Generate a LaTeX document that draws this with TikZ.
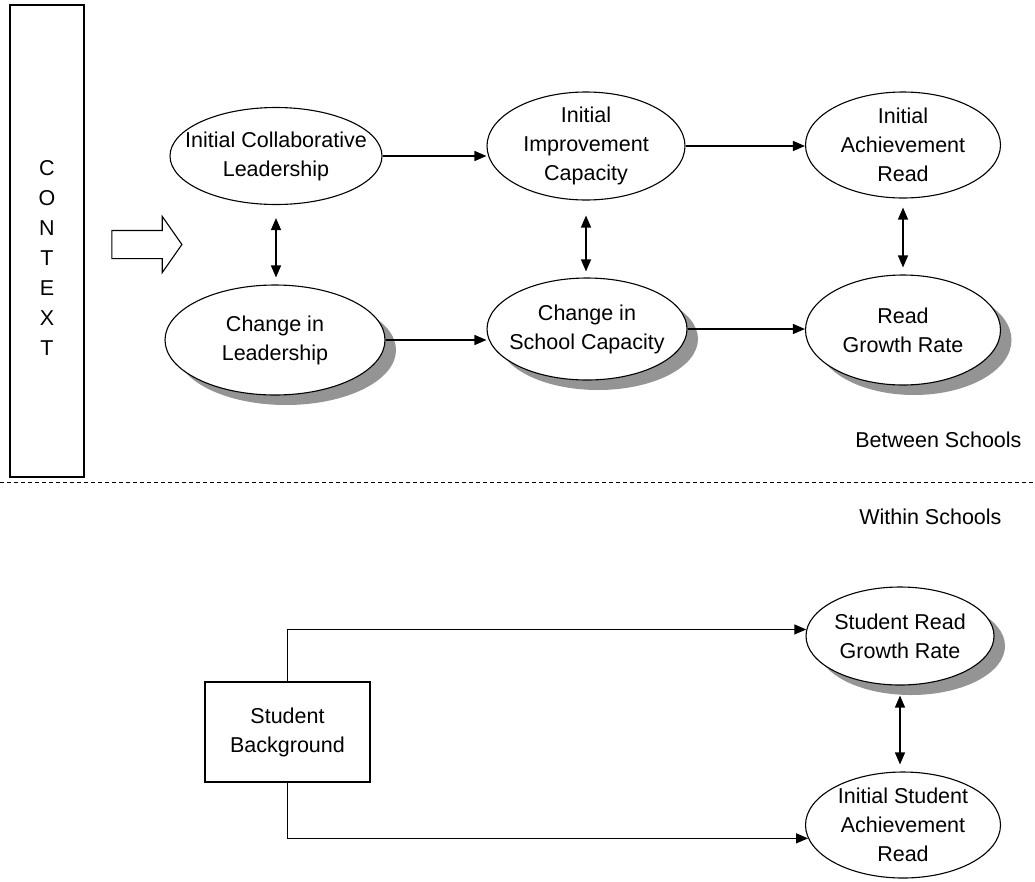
\documentclass[tikz,border=0pt]{standalone}
\usepackage{fontspec}
\setmainfont{Liberation Sans}
\usetikzlibrary{positioning}
\usetikzlibrary{arrows.meta}
\usetikzlibrary{shapes.geometric}
\usetikzlibrary{shapes.arrows}
\usetikzlibrary{shadows}

\tikzset{
    var/.style={ellipse, draw=black, line width=1.1pt, fill=white, inner sep=-60pt, align=center},
    varshadow/.style={var, drop shadow={shadow xshift=11pt, shadow yshift=-10pt, fill=black!42, opacity=1}},
    link/.style={-{Triangle[length=12pt,width=10pt]}, line width=1.3pt},
    both/.style={{Triangle[length=12pt,width=10pt]}-{Triangle[length=12pt,width=10pt]}, line width=1.3pt},
}

\begin{document}
\begin{tikzpicture}[x=1pt, y=-1pt, font=\fontsize{21.5}{29}\selectfont]
    \useasboundingbox (0,0) rectangle (1035,881);
    % context
    \node (context) [rectangle, minimum width=74pt, minimum height=472pt, draw=black, line width=1.1pt] at (47,241) {};
    \node (contextletters) [align=center, font=\fontsize{21.5}{30}\selectfont] at (47,258) {C\\O\\N\\T\\E\\X\\T};
    \node (contextarrow) [single arrow, draw=black, line width=1.1pt, minimum height=70pt, inner xsep=0pt, inner ysep=13.5pt, single arrow head extend=14pt, single arrow tip angle=110] at (142,244.5) {};
    % between schools
    \node (icl) [var, minimum width=212pt, minimum height=97pt] at (276,156) {Initial Collaborative\\Leadership};
    \node (iic) [var, minimum width=198pt, minimum height=108pt] at (586,146) {Initial\\Improvement\\Capacity};
    \node (iar) [var, minimum width=195pt, minimum height=106pt] at (903,145) {Initial\\Achievement\\Read};
    \node (cl) [varshadow, minimum width=220pt, minimum height=110pt] at (275,340) {Change in\\Leadership};
    \node (csc) [varshadow, minimum width=200pt, minimum height=102pt] at (587,329) {Change in\\School Capacity};
    \node (rgr) [varshadow, minimum width=195pt, minimum height=110pt] at (903,330) {Read\\Growth Rate};
    \draw [link] (icl.east) -- (icl.east -| iic.west);
    \draw [link] (iic.east) -- (iic.east -| iar.west);
    \draw [link] (cl.east) -- (cl.east -| csc.west);
    \draw [link] (csc.east) -- (csc.east -| rgr.west);
    \draw [both, shorten <=13pt, shorten >=7pt] (icl.south) -- (icl.south |- cl.north);
    \draw [both, shorten <=15pt, shorten >=6pt] (iic.south) -- (iic.south |- csc.north);
    \draw [both, shorten <=9pt, shorten >=7pt] (iar.south) -- (iar.south |- rgr.north);
    \node (between) [anchor=east] at (1025,440) {Between Schools};
    \draw [dash pattern=on 4pt off 3pt, line width=1pt] (0,482) -- (1035,482);
    % within schools
    \node (within) [anchor=east] at (1005,517) {Within Schools};
    \node (srgr) [varshadow, minimum width=188pt, minimum height=98pt] at (900,636) {Student Read\\Growth Rate};
    \node (isar) [var, minimum width=195pt, minimum height=106pt] at (903,825) {Initial Student\\Achievement\\Read};
    \node (background) [rectangle, minimum width=165pt, minimum height=100pt, draw=black, line width=1.1pt, align=center] at (287.5,732) {Student\\Background};
    \draw [both, shorten <=10pt, shorten >=7pt] (srgr.south) -- (srgr.south |- isar.north);
    \draw [link] (background.north) |- (srgr.176);
    \draw [link] (background.south) |- (isar.188);
\end{tikzpicture}
\end{document}
